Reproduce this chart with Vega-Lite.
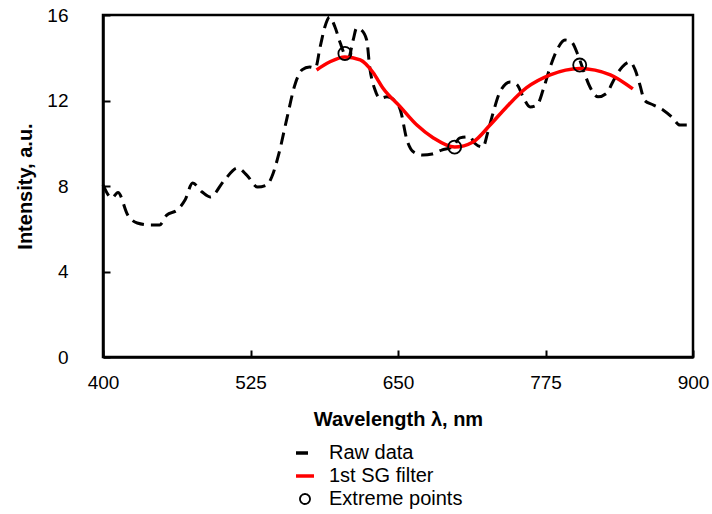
{
  "$schema": "https://vega.github.io/schema/vega-lite/v6.json",
  "width": 590,
  "height": 342,
  "autosize": {"type": "none"},
  "padding": {"left": 103, "top": 15, "right": 19, "bottom": 157},
  "background": "white",
  "config": {
    "font": "Liberation Sans",
    "view": {"stroke": "black", "strokeWidth": 2.5},
    "axis": {
      "grid": false,
      "domainColor": "black",
      "domainWidth": 2.5,
      "tickColor": "black",
      "tickWidth": 2,
      "tickSize": -7,
      "labelColor": "black",
      "labelFontSize": 19,
      "labelFlush": false,
      "titleColor": "black",
      "titleFontSize": 20,
      "titleFontWeight": "bold"
    },
    "legend": {
      "labelFontSize": 20,
      "labelColor": "black",
      "padding": 0
    }
  },
  "datasets": {
    "raw": [
      {"wl": 400, "v": 8.05}, {"wl": 407.6, "v": 7.44}, {"wl": 412.7, "v": 7.7}, {"wl": 421, "v": 6.64},
      {"wl": 429, "v": 6.27}, {"wl": 440, "v": 6.18}, {"wl": 448, "v": 6.18}, {"wl": 454, "v": 6.64},
      {"wl": 463, "v": 6.88}, {"wl": 469.5, "v": 7.34}, {"wl": 476, "v": 8.14}, {"wl": 484, "v": 7.72},
      {"wl": 490.7, "v": 7.49}, {"wl": 503, "v": 8.28}, {"wl": 514, "v": 8.84}, {"wl": 522, "v": 8.5},
      {"wl": 531, "v": 7.95}, {"wl": 539, "v": 8.05}, {"wl": 543, "v": 8.42}, {"wl": 549, "v": 9.5},
      {"wl": 556, "v": 11.2}, {"wl": 563, "v": 12.8}, {"wl": 568.6, "v": 13.43}, {"wl": 575, "v": 13.57},
      {"wl": 580, "v": 13.52}, {"wl": 584, "v": 14.5}, {"wl": 588, "v": 15.44}, {"wl": 592, "v": 15.9},
      {"wl": 596.6, "v": 15.44}, {"wl": 601, "v": 14.7}, {"wl": 605, "v": 14.13}, {"wl": 608, "v": 14.0},
      {"wl": 612, "v": 14.83}, {"wl": 615, "v": 15.4}, {"wl": 619, "v": 15.3}, {"wl": 623.5, "v": 14.83},
      {"wl": 626, "v": 13.57}, {"wl": 630.5, "v": 12.5}, {"wl": 634.7, "v": 12.1}, {"wl": 640.7, "v": 12.17},
      {"wl": 647, "v": 12.0}, {"wl": 652, "v": 11.56}, {"wl": 657.6, "v": 10.15}, {"wl": 663, "v": 9.6},
      {"wl": 671, "v": 9.45}, {"wl": 679, "v": 9.5}, {"wl": 687, "v": 9.68}, {"wl": 696, "v": 9.82},
      {"wl": 702.5, "v": 10.25}, {"wl": 711, "v": 10.3}, {"wl": 715, "v": 10.0}, {"wl": 722, "v": 9.82},
      {"wl": 726, "v": 10.5}, {"wl": 730.5, "v": 11.4}, {"wl": 736, "v": 12.35}, {"wl": 745, "v": 12.87},
      {"wl": 751, "v": 12.73}, {"wl": 756, "v": 12.17}, {"wl": 762, "v": 11.7}, {"wl": 768, "v": 11.8},
      {"wl": 773, "v": 12.5}, {"wl": 779, "v": 13.57}, {"wl": 784.7, "v": 14.36}, {"wl": 791.5, "v": 14.83},
      {"wl": 797, "v": 14.74}, {"wl": 802.5, "v": 14.13}, {"wl": 807, "v": 13.43}, {"wl": 812.7, "v": 12.63},
      {"wl": 819.5, "v": 12.17}, {"wl": 827, "v": 12.35}, {"wl": 832, "v": 12.87}, {"wl": 840, "v": 13.57},
      {"wl": 846.6, "v": 13.8}, {"wl": 851, "v": 13.43}, {"wl": 855, "v": 12.73}, {"wl": 859, "v": 12.0},
      {"wl": 866, "v": 11.8}, {"wl": 874.6, "v": 11.56}, {"wl": 882, "v": 11.23}, {"wl": 889, "v": 10.85},
      {"wl": 895, "v": 10.85}, {"wl": 899, "v": 11.0}
    ],
    "sg": [
      {"wl": 581, "v": 13.43}, {"wl": 592, "v": 13.8}, {"wl": 605, "v": 14.04}, {"wl": 618, "v": 13.9},
      {"wl": 629, "v": 13.3}, {"wl": 637, "v": 12.6}, {"wl": 652, "v": 11.7}, {"wl": 666, "v": 10.85},
      {"wl": 680, "v": 10.25}, {"wl": 698, "v": 9.82}, {"wl": 713.6, "v": 10.06}, {"wl": 728, "v": 10.85},
      {"wl": 742, "v": 11.7}, {"wl": 759, "v": 12.6}, {"wl": 779, "v": 13.2}, {"wl": 804, "v": 13.5},
      {"wl": 830, "v": 13.2}, {"wl": 849, "v": 12.54}
    ],
    "ext": [
      {"wl": 605, "v": 14.2}, {"wl": 698, "v": 9.82}, {"wl": 804, "v": 13.66}
    ]
  },
  "encoding": {
    "x": {
      "field": "wl", "type": "quantitative",
      "scale": {"domain": [400, 900], "nice": false, "zero": false},
      "axis": {"values": [400, 525, 650, 775, 900], "title": "Wavelength λ, nm", "labelPadding": 23, "titleY": 52}
    },
    "y": {
      "field": "v", "type": "quantitative",
      "scale": {"domain": [0, 16], "nice": false},
      "axis": {"values": [0, 4, 8, 12, 16], "title": "Intensity, a.u.", "labelPadding": 42, "titleX": -68, "titleY": 171}
    },
    "color": {
      "field": "series", "type": "nominal",
      "scale": {"domain": ["Raw data", "1st SG filter", "Extreme points"], "range": ["black", "red", "black"]},
      "legend": {
        "title": null,
        "orient": "none",
        "legendX": 192,
        "legendY": 428,
        "direction": "vertical",
        "rowPadding": 3,
        "labelOffset": 14,
        "symbolStrokeWidth": 3,
        "encode": {
          "symbols": {
            "update": {
              "shape": {"signal": "datum.value === 'Extreme points' ? 'circle' : 'stroke'"},
              "size": {"signal": "datum.value === 'Extreme points' ? 100 : 324"},
              "fill": {"value": "transparent"},
              "stroke": {"signal": "datum.value === '1st SG filter' ? 'red' : 'black'"},
              "strokeWidth": {"signal": "datum.value === 'Extreme points' ? 1.8 : 3.5"},
              "strokeDash": {"signal": "datum.value === 'Raw data' ? [12, 7] : [1, 0]"},
              "opacity": {"value": 1}
            }
          }
        }
      }
    }
  },
  "layer": [
    {
      "data": {"name": "raw"},
      "transform": [{"calculate": "'Raw data'", "as": "series"}],
      "mark": {"type": "line", "strokeWidth": 3, "strokeDash": [12, 7], "interpolate": "monotone"}
    },
    {
      "data": {"name": "sg"},
      "transform": [{"calculate": "'1st SG filter'", "as": "series"}],
      "mark": {"type": "line", "strokeWidth": 3.5, "interpolate": "monotone"}
    },
    {
      "data": {"name": "ext"},
      "transform": [{"calculate": "'Extreme points'", "as": "series"}],
      "mark": {"type": "point", "filled": false, "size": 170, "strokeWidth": 1.8, "opacity": 1}
    }
  ]
}
